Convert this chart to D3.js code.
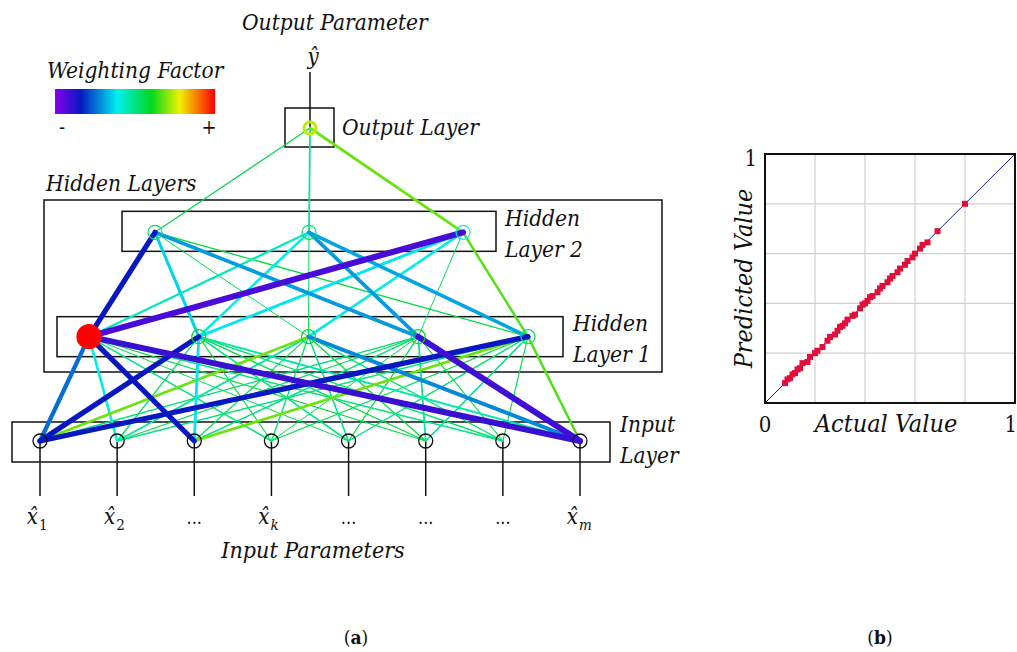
<!doctype html>
<html lang="en">
<head>
    <meta charset="UTF-8">
    <title>ANN weights and prediction</title>
    <script src="https://cdnjs.cloudflare.com/ajax/libs/d3/7.8.5/d3.min.js"></script>
    <style>
        html, body {
            margin: 0;
            padding: 0;
            background: #fff;
            overflow: hidden;
        }
        text {
            font-family: "DejaVu Serif Condensed", "DejaVu Serif", serif;
            fill: #111;
        }
        text.it {
            font-style: italic;
        }
    </style>
</head>
<body>
<svg id="chart" width="1017" height="652"></svg>
<script>
    // input labels (base + subscript)
    const inputLabels = [["x̂", "1"], ["x̂", "2"], ["...", ""], ["x̂", "k"], ["...", ""], ["...", ""], ["...", ""], ["x̂", "m"]];

    // weighting factor on colour scale 0 (-) .. 1 (+)
    const wOutH2 = [0.57, 0.48, 0.68];
    const wH2H1 = [
        [0.16, 0.36, 0.55, 0.30, 0.57],
        [0.44, 0.40, 0.55, 0.30, 0.31],
        [0.08, 0.38, 0.40, 0.55, 0.66]
    ];
    const wH1In = [
        [0.25, 0.40, 0.16, 0.50, 0.55, 0.56, 0.50, 0.10],
        [0.16, 0.52, 0.38, 0.56, 0.50, 0.57, 0.52, 0.46],
        [0.68, 0.48, 0.56, 0.52, 0.50, 0.57, 0.52, 0.28],
        [0.52, 0.56, 0.50, 0.55, 0.57, 0.48, 0.56, 0.09],
        [0.16, 0.50, 0.68, 0.56, 0.52, 0.50, 0.56, 0.66]
    ];
    const nodeOut = [0.74];
    const nodeH2 = [0.54, 0.52, 0.40];
    const nodeH1 = [1.00, 0.60, 0.58, 0.60, 0.52];

    // scatter (b)
    const actual = [0.08, 0.09, 0.10, 0.11, 0.12, 0.13, 0.14, 0.15, 0.17, 0.18, 0.20, 0.21, 0.23, 0.25, 0.26,
        0.28, 0.29, 0.30, 0.31, 0.32, 0.33, 0.35, 0.36, 0.38, 0.39, 0.40, 0.41, 0.42, 0.43, 0.45, 0.46,
        0.47, 0.49, 0.50, 0.51, 0.53, 0.54, 0.56, 0.57, 0.59, 0.60, 0.62, 0.63, 0.65, 0.69, 0.80];
    const predicted = [0.08, 0.095, 0.10, 0.115, 0.12, 0.135, 0.14, 0.16, 0.165, 0.185, 0.20, 0.21, 0.225, 0.25, 0.265,
        0.275, 0.29, 0.305, 0.31, 0.32, 0.335, 0.35, 0.355, 0.38, 0.395, 0.40, 0.41, 0.425, 0.43, 0.445, 0.46,
        0.47, 0.485, 0.50, 0.51, 0.525, 0.54, 0.555, 0.57, 0.585, 0.60, 0.62, 0.635, 0.645, 0.69, 0.80];

    const svg = d3.select("#chart");

    const color = d3.scaleLinear()
        .domain([0, 0.16, 0.39, 0.6, 0.78, 1])
        .range(["#8a00f0", "#0818c0", "#00f0f0", "#00d820", "#f0f000", "#ff0000"]);
    const width = d3.scaleLinear().domain([0, 0.55, 1]).range([7, 1, 7]);

    const yLayer = d3.scalePoint().domain(["in", "h1", "h2", "out"]).range([441, 128]);
    const xIn = d3.scalePoint().domain(d3.range(8)).range([40, 580]);
    const xH1 = d3.scalePoint().domain(d3.range(5)).range([89, 528]);
    const xH2 = d3.scalePoint().domain(d3.range(3)).range([155, 463]);
    const xOut = () => 310;

    const itext = (x, y, t, anchor, size, rot) => svg.append("text").attr("class", "it")
        .attr("transform", "translate(" + x + "," + y + ")" + (rot ? " rotate(" + rot + ")" : ""))
        .attr("text-anchor", anchor || "start")
        .attr("font-size", size || 22.5)
        .text(t);

    // edges
    const edges = [];
    wOutH2.forEach((w, j) => edges.push({x1: xOut(0), y1: yLayer("out"), x2: xH2(j), y2: yLayer("h2"), w}));
    wH2H1.forEach((row, i) => row.forEach((w, j) =>
        edges.push({x1: xH2(i), y1: yLayer("h2"), x2: xH1(j), y2: yLayer("h1"), w})));
    wH1In.forEach((row, i) => row.forEach((w, j) =>
        edges.push({x1: xH1(i), y1: yLayer("h1"), x2: xIn(j), y2: yLayer("in"), w})));
    edges.sort((a, b) => width(a.w) - width(b.w));

    // boxes
    const box = (x0, y0, x1, y1) => svg.append("rect")
        .attr("x", x0).attr("y", y0).attr("width", x1 - x0).attr("height", y1 - y0)
        .attr("fill", "none").attr("stroke", "#111").attr("stroke-width", 1.5);
    box(44, 200, 662, 372);
    box(xH2(0) - 33, yLayer("h2") - 21, xH2(2) + 33, yLayer("h2") + 19);
    box(xH1(0) - 32, yLayer("h1") - 20, xH1(4) + 35, yLayer("h1") + 20);
    box(xIn(0) - 28, yLayer("in") - 19, xIn(7) + 30, yLayer("in") + 21);
    box(xOut(0) - 25, yLayer("out") - 20, xOut(0) + 24, yLayer("out") + 19);

    // output / input connector lines
    svg.append("line").attr("x1", xOut(0)).attr("x2", xOut(0)).attr("y1", 72).attr("y2", yLayer("out"))
        .attr("stroke", "#111").attr("stroke-width", 1.5);
    svg.selectAll(".inline").data(d3.range(8)).enter().append("line")
        .attr("x1", d => xIn(d)).attr("x2", d => xIn(d))
        .attr("y1", yLayer("in")).attr("y2", 496)
        .attr("stroke", "#111").attr("stroke-width", 1.5);

    svg.append("g").selectAll("line").data(edges).enter().append("line")
        .attr("x1", d => d.x1).attr("y1", d => d.y1)
        .attr("x2", d => d.x2).attr("y2", d => d.y2)
        .attr("stroke", d => color(d.w))
        .attr("stroke-width", d => width(d.w))
        .attr("stroke-linecap", "round");

    // nodes
    const hidden = [];
    nodeH2.forEach((v, i) => hidden.push({x: xH2(i), y: yLayer("h2"), v}));
    nodeH1.forEach((v, i) => hidden.push({x: xH1(i), y: yLayer("h1"), v}));
    nodeOut.forEach(v => hidden.push({x: xOut(0), y: yLayer("out"), v}));
    svg.append("g").selectAll("circle").data(hidden).enter().append("circle")
        .attr("cx", d => d.x).attr("cy", d => d.y)
        .attr("r", d => d.v > 0.9 ? 12 : (d.v > 0.65 ? 6 : 7))
        .attr("fill", d => d.v > 0.9 ? color(d.v) : "none")
        .attr("stroke", d => color(d.v))
        .attr("stroke-width", d => d.v > 0.65 && d.v <= 0.9 ? 3 : 1.2);
    svg.append("g").selectAll("circle").data(d3.range(8)).enter().append("circle")
        .attr("cx", d => xIn(d)).attr("cy", yLayer("in")).attr("r", 7)
        .attr("fill", "none").attr("stroke", "#111").attr("stroke-width", 1.3);

    // labels
    itext(242, 30, "Output Parameter", "start");
    itext(342, 135, "Output Layer");
    itext(46, 191, "Hidden Layers");
    itext(505, 226, "Hidden"); itext(505, 257, "Layer 2");
    itext(573, 331, "Hidden"); itext(573, 362, "Layer 1");
    itext(620, 432, "Input"); itext(620, 463, "Layer");
    itext(313, 558, "Input Parameters", "middle", 23);
    itext(47, 78, "Weighting Factor");
    itext(313, 64, "ŷ", "middle", 22);

    // input parameter labels
    inputLabels.forEach((d, i) => {
        if (d[1]) {
            itext(xIn(i) - 2, 524, d[0], "end", 22);
            svg.append("text").attr("x", xIn(i) - 1).attr("y", 530).attr("font-size", 15)
                .attr("class", d[1] === "k" || d[1] === "m" ? "it" : null)
                .text(d[1]);
        } else {
            svg.append("text").attr("x", xIn(i)).attr("y", 524).attr("text-anchor", "middle")
                .attr("font-size", 18).text(d[0]);
        }
    });

    // legend
    const grad = svg.append("defs").append("linearGradient").attr("id", "wf");
    color.domain().forEach(s => grad.append("stop").attr("offset", s).attr("stop-color", color(s)));
    svg.append("rect").attr("x", 55).attr("y", 89).attr("width", 160).attr("height", 25).attr("fill", "url(#wf)");
    svg.append("text").attr("x", 62).attr("y", 134).attr("text-anchor", "middle").attr("font-size", 20).text("-");
    svg.append("text").attr("x", 209).attr("y", 134).attr("text-anchor", "middle").attr("font-size", 20).text("+");

    // scatter (b)
    const sx = d3.scaleLinear().domain([0, 1]).range([765, 1015]);
    const sy = d3.scaleLinear().domain([0, 1]).range([403, 154]);
    const grid = [0.2, 0.4, 0.6, 0.8];
    const gp = svg.append("g");
    gp.selectAll(".gx").data(grid).enter().append("line")
        .attr("x1", d => sx(d)).attr("x2", d => sx(d)).attr("y1", sy(0)).attr("y2", sy(1))
        .attr("stroke", "#cfcfcf").attr("stroke-width", 1.2);
    gp.selectAll(".gy").data(grid).enter().append("line")
        .attr("y1", d => sy(d)).attr("y2", d => sy(d)).attr("x1", sx(0)).attr("x2", sx(1))
        .attr("stroke", "#cfcfcf").attr("stroke-width", 1.2);
    gp.append("line").attr("x1", sx(0)).attr("y1", sy(0)).attr("x2", sx(1)).attr("y2", sy(1))
        .attr("stroke", "#1a1a9a").attr("stroke-width", 1);
    gp.selectAll("rect.pt").data(actual).enter().append("rect")
        .attr("x", (d, i) => sx(d) - 3).attr("y", (d, i) => sy(predicted[i]) - 3)
        .attr("width", 6).attr("height", 6).attr("fill", "#e0103a");
    gp.append("rect").attr("x", sx(0)).attr("y", sy(1)).attr("width", sx(1) - sx(0)).attr("height", sy(0) - sy(1))
        .attr("fill", "none").attr("stroke", "#111").attr("stroke-width", 2);

    const st = (x, y, anchor, t) => svg.append("text").attr("x", x).attr("y", y)
        .attr("text-anchor", anchor).attr("font-size", 22).text(t);
    st(sx(0), 432, "middle", "0");
    st(1017, 432, "end", "1");
    st(sx(0) - 8, 166, "end", "1");
    itext(886, 432, "Actual Value", "middle", 25);
    itext(752, sy(0.5), "Predicted Value", "middle", 25, -90);

    // panel captions
    svg.append("text").attr("x", 356).attr("y", 644).attr("text-anchor", "middle").attr("font-size", 19)
        .html("(<tspan font-weight='bold'>a</tspan>)");
    svg.append("text").attr("x", 880).attr("y", 644).attr("text-anchor", "middle").attr("font-size", 19)
        .html("(<tspan font-weight='bold'>b</tspan>)");
</script>
</body>
</html>
